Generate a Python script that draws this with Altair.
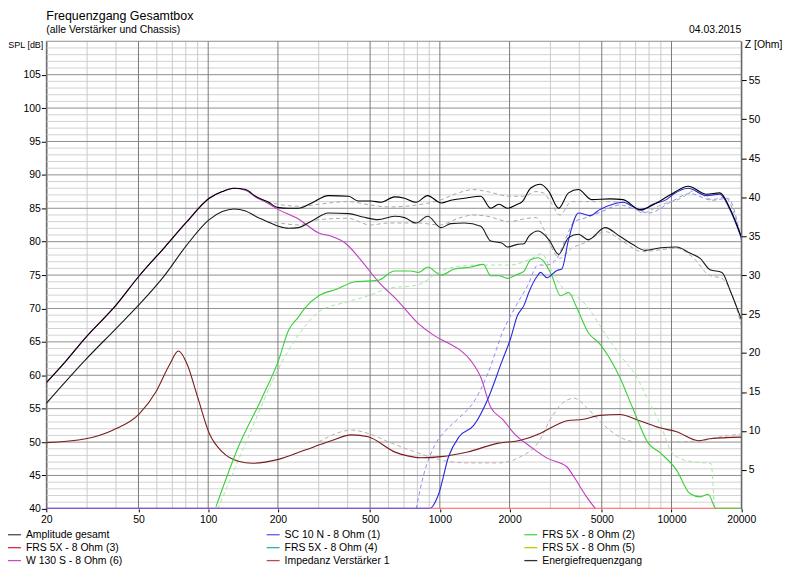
import altair as alt
import pandas as pd

# ---------------- data ----------------
FREQ_TICKS = [20, 50, 100, 200, 500, 1000, 2000, 5000, 10000, 20000]
FREQ_MINOR = [30, 40, 60, 70, 80, 90, 300, 400, 600, 700, 800, 900,
              3000, 4000, 6000, 7000, 8000, 9000]
SPL_LABELS = [40, 45, 50, 55, 60, 65, 70, 75, 80, 85, 90, 95, 100, 105]
SPL_MAJOR = [45, 50, 55, 60, 65, 70, 75, 80, 85, 90, 95, 100, 105, 110]
SPL_MINOR = [s for s in range(41, 110) if s % 5 != 0]
Z_LABELS = [5, 10, 15, 20, 25, 30, 35, 40, 45, 50, 55]

# Amplitude gesamt
amp_f = [20, 24.4, 29.3, 40, 50.4, 65, 80, 101, 115, 129, 145, 160, 180, 201, 222, 245,
         280, 330, 404, 444, 505, 558, 637, 704, 790, 886, 1012, 1116, 1276, 1502, 1658,
         1800, 1958, 2160, 2270, 2464, 2722, 2956, 3256, 3594, 3966, 4520, 5420, 6180,
         7300, 8620, 10180, 11820, 14180, 16180, 17860, 20000]
amp_v = [58.9, 62.2, 65.5, 70.5, 74.9, 79.2, 82.8, 86.5, 87.5, 88.0, 87.8, 86.8, 86.0, 85.1,
         85.0, 85.0, 85.8, 86.9, 86.8, 86.1, 86.1, 85.9, 86.7, 86.5, 85.9, 86.9, 85.8, 86.2,
         86.5, 86.8, 85.0, 85.6, 85.0, 85.6, 86.0, 88.0, 88.6, 87.5, 85.0, 87.3, 87.8, 86.3,
         86.4, 86.3, 84.8, 85.8, 87.3, 88.3, 87.1, 87.3, 85.0, 80.8]

# Energiefrequenzgang
ene_f = [20, 29.3, 40, 50.4, 65, 80, 101, 115, 129, 145, 160, 180, 201, 222, 245, 280, 330,
         404, 465, 540, 637, 704, 790, 886, 1012, 1116, 1276, 1502, 1658, 1850, 1958, 2160,
         2310, 2420, 2660, 2956, 3256, 3594, 3966, 4370, 5170, 5980, 6780, 7700, 9000,
         10520, 12000, 13300, 14660, 16500, 18000, 20000]
ene_v = [55.8, 62.2, 67.0, 70.6, 75.0, 79.3, 83.3, 84.5, 84.9, 84.6, 83.8, 83.0, 82.3, 82.0,
         82.1, 83.1, 84.3, 84.2, 83.7, 83.3, 83.8, 83.6, 82.8, 83.8, 82.1, 82.7, 82.8, 82.3,
         80.1, 79.8, 79.2, 79.6, 79.7, 80.8, 81.6, 80.3, 78.1, 80.6, 81.1, 80.3, 82.1, 80.8,
         79.6, 78.7, 79.1, 79.2, 78.3, 77.5, 75.8, 75.4, 72.5, 68.4]

# W 130 S - 8 Ohm (6)
w130_f = [20, 24.4, 29.3, 40, 50.4, 65, 80, 101, 115, 129, 145, 160, 180, 201, 245, 300,
          340, 390, 460, 540, 660, 810, 950, 1116, 1220, 1360, 1502, 1658, 1880, 2090,
          2464, 2900, 3532, 3790, 4300, 4700]
w130_v = [58.9, 62.2, 65.5, 70.5, 74.9, 79.2, 82.8, 86.5, 87.5, 88.0, 87.7, 86.7, 85.8,
          84.8, 83.4, 81.3, 80.8, 79.8, 77.1, 74.1, 71.1, 67.7, 65.9, 64.6, 63.8, 62.2,
          59.7, 55.2, 53.3, 51.3, 49.3, 47.6, 46.3, 44.8, 41.8, 40.0]

# FRS 5X - 8 Ohm (2)
frs2_f = [108, 135, 170, 201, 222, 245, 262, 300, 360, 430, 540, 637, 750, 810, 886, 1012,
          1155, 1360, 1540, 1658, 1800, 1958, 2160, 2310, 2464, 2660, 2800, 3030, 3320,
          3594, 3900, 4370, 4900, 5980, 6780, 7950, 9000, 10520, 12000, 13300, 14400,
          15600, 20000]
frs2_v = [40.3, 49.3, 56.5, 62.2, 66.7, 68.7, 70.1, 71.9, 72.9, 74.0, 74.2, 75.6, 75.6,
          75.4, 76.2, 75.0, 75.9, 76.2, 76.6, 74.9, 74.9, 74.5, 75.1, 75.6, 77.3, 77.6,
          77.1, 75.1, 71.9, 72.4, 70.1, 66.4, 64.7, 59.7, 55.2, 49.8, 48.3, 45.8, 42.3,
          41.8, 42.2, 40.0, 40.0]

# SC 10 N - 8 Ohm (1)
sc10_f = [20, 900, 990, 1090, 1210, 1400, 1600, 1850, 2020, 2160, 2310, 2420, 2640, 2720,
          2900, 3200, 3360, 3594, 3966, 4450, 4900, 5580, 6180, 6780, 7400, 8300, 9500,
          10180, 11820, 14180, 16180, 17860, 20000]
sc10_v = [40.0, 40.0, 42.3, 47.8, 50.8, 52.5, 56.2, 62.0, 65.5, 68.9, 70.5, 72.4, 74.9,
          75.4, 74.6, 75.7, 75.9, 80.3, 84.3, 83.9, 84.8, 85.6, 85.9, 85.3, 84.7, 85.6,
          86.3, 87.1, 88.0, 86.9, 87.1, 84.8, 80.6]

# FRS 5X - 8 Ohm (3) (at the floor)
frs3_f = [20, 20000]
frs3_v = [40, 40]

# Impedanz Verstärker 1 (Ohm)
imp_f = [20, 29.6, 38.7, 50.4, 59.4, 67.8, 74.4, 81, 89.9, 101, 115, 135, 155, 201, 262,
         330, 417, 490, 645, 726, 828, 1012, 1318, 1770, 2230, 2722, 3150, 3532, 4164,
         4900, 5980, 7300, 8900, 10520, 13060, 14660, 20000]
imp_z = [8.5, 9.0, 10.1, 12.2, 15.0, 18.4, 20.25, 18.6, 14.4, 9.7, 7.3, 6.1, 5.85, 6.35,
         7.55, 8.6, 9.5, 9.25, 7.25, 6.8, 6.55, 6.7, 7.3, 8.4, 8.8, 9.7, 10.7, 11.3, 11.5,
         12.0, 12.1, 11.3, 10.4, 9.9, 8.75, 9.0, 9.2]

# comparison curves (dashed)
amp2_f = [180, 201, 250, 300, 400, 500, 600, 800, 1000, 1200, 1400, 1600, 2000, 2300, 2600,
          2800, 3000, 3300, 3700, 4200, 5000, 6500, 7500, 9000, 11000, 12500, 15000, 17000,
          18500, 20000]
amp2_v = [86.0, 85.6, 85.3, 85.6, 86.0, 85.5, 85.2, 85.5, 86.2, 87.3, 87.8, 87.5, 86.8,
          86.8, 87.5, 87.3, 86.0, 84.0, 86.0, 86.0, 86.0, 85.8, 84.3, 85.5, 86.5, 87.6,
          86.3, 86.7, 84.5, 80.3]
ene2_f = [180, 201, 245, 300, 400, 500, 600, 800, 1000, 1200, 1400, 1600, 2000, 2300, 2600,
          2800, 3000, 3300, 3700, 4200, 5200, 6000, 7500, 9000, 10500, 12500, 14500, 16500,
          18500, 20000]
ene2_v = [83.0, 82.8, 82.5, 83.3, 83.5, 82.5, 82.8, 82.8, 82.5, 83.5, 84.0, 83.8, 83.0,
          83.4, 83.6, 82.0, 79.5, 77.5, 79.0, 79.8, 81.5, 80.3, 78.5, 78.8, 79.0, 77.5,
          75.0, 74.5, 71.5, 67.5]
frs2b_f = [110, 150, 201, 245, 300, 400, 500, 600, 800, 1000, 1200, 1500, 2000, 2500, 2750,
           3000, 3500, 4000, 4500, 5000, 6000, 7000, 8000, 9000, 10000, 11000, 12500,
           14800, 15300]
frs2b_v = [40.0, 51.0, 61.0, 66.0, 69.5, 71.0, 72.0, 73.0, 73.5, 75.5, 76.3, 76.5, 76.5,
           77.5, 78.2, 76.0, 72.5, 71.5, 69.5, 67.0, 63.0, 60.0, 56.0, 52.5, 48.5, 47.5,
           47.0, 46.8, 40.0]
sc10b_f = [790, 850, 950, 1065, 1200, 1400, 1600, 1880, 2100, 2400, 2650, 2900, 3200, 3500,
           3800, 4200, 5000, 6000, 7000, 8000, 10000, 12000, 15000, 17500, 20000]
sc10b_v = [40.0, 45.0, 49.5, 51.8, 53.5, 56.0, 60.0, 66.7, 70.0, 73.5, 76.5, 76.5, 77.5,
           80.5, 83.0, 83.5, 84.5, 85.5, 84.8, 84.3, 86.0, 87.2, 86.2, 86.5, 80.3]
imp2_f = [300, 417, 500, 600, 800, 1000, 1300, 1800, 2200, 2700, 3000, 3400, 3800, 4300,
          5000, 6000, 7000, 10000, 13000, 16000, 20000]
imp2_z = [8.6, 10.1, 9.6, 8.6, 7.2, 6.3, 5.9, 5.9, 6.6, 8.8, 11.5, 13.6, 14.2, 13.0, 11.0,
          9.2, 8.6, 8.6, 8.7, 9.2, 9.6]

LEG_NAMES = ["Amplitude gesamt", "SC 10 N - 8 Ohm (1)", "FRS 5X - 8 Ohm (2)",
             "FRS 5X - 8 Ohm (3)", "FRS 5X - 8 Ohm (4)", "FRS 5X - 8 Ohm (5)",
             "W 130 S - 8 Ohm (6)", "Impedanz Verstärker 1", "Energiefrequenzgang"]
LEG_COLORS = ["#4a4a4a", "#5a5af0", "#44dd44", "#e02848", "#22b8a8", "#c8c800",
              "#c050c0", "#b05050", "#303030"]

# ---------------- chart ----------------
FONT = "Liberation Sans"
xs = alt.Scale(type="log", domain=[20, 20000], nice=False)
ys = alt.Scale(domain=[40, 110], nice=False, zero=False)
xaxis = alt.Axis(values=FREQ_TICKS, format="d", title=None, grid=False, tickSize=3,
                 labelPadding=3, labelFlush=False, domain=False)
yaxis = alt.Axis(values=SPL_LABELS, title=None, grid=False, tickSize=5, labelPadding=1,
                 labelFlush=False, orient="left")


def X():
    return alt.X("f:Q", scale=xs, axis=xaxis)


def Y():
    return alt.Y("v:Q", scale=ys, axis=yaxis)


def vrules(vals, color):
    return alt.Chart(pd.DataFrame({"f": vals})).mark_rule(color=color, strokeWidth=1).encode(x=X())


def hrules(vals, color):
    return alt.Chart(pd.DataFrame({"v": vals})).mark_rule(color=color, strokeWidth=1).encode(y=Y())


def curve(f, v, color, width=1.0, dash=None):
    kw = dict(color=color, strokeWidth=width, interpolate="monotone", clip=True)
    if dash:
        kw["strokeDash"] = dash
    return alt.Chart(pd.DataFrame({"f": f, "v": v})).mark_line(**kw).encode(x=X(), y=Y())


def zcurve(f, z, color, width=1.0, dash=None):
    kw = dict(color=color, strokeWidth=width, interpolate="monotone", clip=True)
    if dash:
        kw["strokeDash"] = dash
    return (alt.Chart(pd.DataFrame({"f": f, "z": z}))
            .transform_calculate(v="40 + datum.z * 70 / 60")
            .mark_line(**kw).encode(x=X(), y=Y()))


dummy = pd.DataFrame({"a": [0]})


def label(txt, x, y, size, align="left", color="black"):
    return alt.Chart(dummy).mark_text(text=txt, font=FONT, fontSize=size, align=align,
                                      baseline="middle", color=color).encode(
        x=alt.value(x), y=alt.value(y))


layers = [
    hrules(SPL_MINOR, "#d2d2d2"),
    vrules(FREQ_MINOR, "#cacaca"),
    hrules(SPL_MAJOR, "#8e8e8e"),
    vrules(FREQ_TICKS, "#7a7a7a"),
    curve(amp2_f, amp2_v, "#a8a8a8", 1.0, [4, 3]),
    curve(ene2_f, ene2_v, "#a8a8a8", 1.0, [4, 3]),
    curve(frs2b_f, frs2b_v, "#a6e6a6", 1.0, [4, 3]),
    curve(sc10b_f, sc10b_v, "#8c8cf4", 1.0, [4, 3]),
    zcurve(imp2_f, imp2_z, "#c4a8a8", 1.0, [4, 3]),
    zcurve(imp_f, imp_z, "#7a1c1c", 1.1),
    curve(w130_f, w130_v, "#c03cc0", 1.1),
    curve(frs2_f, frs2_v, "#36d036", 1.1),
    curve(sc10_f, sc10_v, "#2828e0", 1.1),
    curve(frs3_f, frs3_v, "#ff5a5a", 2.0),
    curve(sc10_f[:2], sc10_v[:2], "#5a5af0", 2.0),
    curve(frs2_f[-2:], frs2_v[-2:], "#44dd44", 2.0),
    curve(ene_f, ene_v, "#1a1a1a", 1.1),
    curve(amp_f, amp_v, "#000000", 1.1),
    # titles
    label("Frequenzgang Gesamtbox", 0, -25, 12.5),
    label("(alle Verstärker und Chassis)", 0, -11, 10.5),
    label("04.03.2015", 698.5, -11, 10.5, align="right"),
    label("SPL [dB]", -3, 4, 9, align="right"),
    label("Z [Ohm]", 702, 4, 10.5),
]

COL_X = [-38.5, 221.5, 480.5]
for i, (name, col) in enumerate(zip(LEG_NAMES, LEG_COLORS)):
    cx = COL_X[i % 3]
    ry = 496 + 13 * (i // 3)
    layers.append(alt.Chart(dummy).mark_rule(color=col, strokeWidth=1.3).encode(
        x=alt.value(cx), x2=alt.value(cx + 13), y=alt.value(ry)))
    layers.append(label(name, cx + 18, ry, 10.5))

main = alt.layer(*layers)

zaxis = alt.Chart(pd.DataFrame({"z": [0, 60]})).mark_point(opacity=0).encode(
    y=alt.Y("z:Q", scale=alt.Scale(domain=[0, 60], nice=False, zero=True),
            axis=alt.Axis(orient="right", values=Z_LABELS, title=None, grid=False,
                          tickSize=5, labelPadding=2, labelFlush=False)))

chart = (alt.layer(main, zaxis)
         .resolve_scale(y="independent")
         .properties(width=698.5, height=470,
                     padding={"left": 38.5, "top": 32, "right": 44, "bottom": 60},
                     autosize=alt.AutoSizeParams(type="none"),
                     background="white")
         .configure_axis(labelFont=FONT, labelFontSize=10.5, labelColor="black",
                         tickColor="black", domainColor="black")
         .configure_view(stroke=None))

chart.save("out.html", embed_options={"renderer": "svg", "actions": False})
